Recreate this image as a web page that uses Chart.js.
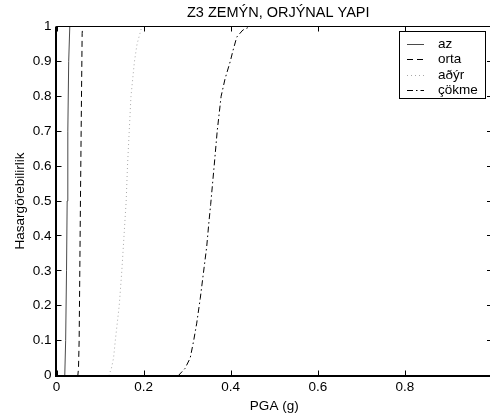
<!DOCTYPE html>
<html>
<head>
<meta charset="utf-8">
<script src="https://cdn.jsdelivr.net/npm/chart.js@4/dist/chart.umd.min.js"></script>
<style>
  html, body { margin: 0; padding: 0; background: #fff; overflow: hidden; }
  #wrap { width: 496px; height: 417px; }
</style>
</head>
<body>
<div id="wrap"><canvas id="c" width="496" height="417"></canvas></div>
<script>
// Fragility curves: probability of exceeding each damage state vs. PGA
const chartTitle = 'Z3 ZEMÝN, ORJÝNAL YAPI';
const xTitle = 'PGA (g)';
const yTitle = 'Hasargörebilirlik';

const seriesNames = ['az', 'orta', 'aðýr', 'çökme'];

const azPGA   = [0, 0.019, 0.021, 0.023, 0.0245, 0.026, 0.028, 0.0305, 1];
const azProb  = [0, 0,     0.1,   0.3,   0.5,    0.7,   0.9,   1,      1];

const ortaPGA  = [0, 0.049, 0.0505, 0.052, 0.0535, 0.055, 0.0566, 0.0578, 0.0589, 0.060, 1];
const ortaProb = [0, 0,     0.02,   0.1,   0.3,    0.5,   0.7,    0.85,   0.98,   1,     1];

const agirPGA  = [0, 0.120, 0.126, 0.131, 0.135, 0.144, 0.150, 0.155, 0.160, 0.163, 0.167, 0.171, 0.179, 0.185, 0.196, 1];
const agirProb = [0, 0,     0.02,  0.05,  0.1,   0.2,   0.3,   0.4,   0.5,   0.6,   0.7,   0.8,   0.9,   0.95,  1,     1];

const cokmePGA  = [0, 0.280, 0.295, 0.307, 0.315, 0.322, 0.330, 0.337, 0.345, 0.350, 0.354, 0.362, 0.369, 0.378, 0.387, 0.399, 0.405, 0.414, 0.428, 0.445, 1];
const cokmeProb = [0, 0,     0.02,  0.05,  0.1,   0.15,  0.22,  0.29,  0.37,  0.44,  0.49,  0.6,   0.7,   0.8,   0.85,  0.9,   0.93,  0.97,  0.99,  1,     1];

const xTicks = [0, 0.2, 0.4, 0.6, 0.8, 1];
const yTicks = [0, 0.1, 0.2, 0.3, 0.4, 0.5, 0.6, 0.7, 0.8, 0.9, 1];

const FONT = 'Liberation Sans, Arial, sans-serif';
const FS = 13.5;

function pts(xs, ys) { return xs.map((x, i) => ({ x: x, y: ys[i] })); }

const styles = [
  { color: '#4a4a4a', dash: [] },
  { color: '#000000', dash: [6, 4] },
  { color: '#a8a8a8', dash: [1, 3] },
  { color: '#000000', dash: [6, 3, 1.5, 3] }
];
const series = [[azPGA, azProb], [ortaPGA, ortaProb], [agirPGA, agirProb], [cokmePGA, cokmeProb]];

const datasets = series.map((s, i) => ({
  label: seriesNames[i],
  data: pts(s[0], s[1]),
  borderColor: styles[i].color,
  borderDash: styles[i].dash,
  borderWidth: 1,
  pointRadius: 0,
  fill: false,
  tension: 0
}));

// Frame with inward ticks on all four sides, drawn over the curves
const framePlugin = {
  id: 'frame',
  afterDatasetsDraw(chart) {
    const { ctx, chartArea: a, scales } = chart;
    ctx.save();
    ctx.strokeStyle = '#000';
    ctx.lineWidth = 1;
    ctx.setLineDash([]);
    ctx.beginPath();
    ctx.rect(a.left, a.top, a.right - a.left, a.bottom - a.top);
    ctx.stroke();
    ctx.lineWidth = 2;
    ctx.beginPath();
    ctx.moveTo(a.left - 0.5, a.top); ctx.lineTo(a.left - 0.5, a.bottom + 0.5); ctx.lineTo(a.right, a.bottom + 0.5);
    ctx.stroke();
    ctx.lineWidth = 1;
    const L = 5;
    ctx.beginPath();
    xTicks.forEach(v => {
      const x = Math.round(scales.x.getPixelForValue(v)) + 0.5;
      ctx.moveTo(x, a.bottom); ctx.lineTo(x, a.bottom - L);
      ctx.moveTo(x, a.top); ctx.lineTo(x, a.top + L);
    });
    yTicks.forEach(v => {
      const y = Math.round(scales.y.getPixelForValue(v) - 0.5) + 0.5;
      ctx.moveTo(a.left, y); ctx.lineTo(a.left + L, y);
      ctx.moveTo(a.right, y); ctx.lineTo(a.right - L, y);
    });
    ctx.stroke();
    // chart title centred over the axes
    ctx.fillStyle = '#000';
    ctx.font = '14.5px ' + FONT;
    ctx.textAlign = 'center';
    ctx.textBaseline = 'middle';
    ctx.fillText(chartTitle, (a.left + a.right) / 2 + 4, 13);
    ctx.restore();
  },
  afterDraw(chart) {
    // boxed legend in the upper right corner
    const { ctx } = chart;
    const bx = 399.5, by = 31.5, bw = 86, bh = 67;
    ctx.save();
    ctx.fillStyle = '#fff';
    ctx.fillRect(bx, by, bw, bh);
    ctx.strokeStyle = '#000';
    ctx.lineWidth = 1;
    ctx.setLineDash([]);
    ctx.strokeRect(bx, by, bw, bh);
    ctx.font = FS + 'px ' + FONT;
    ctx.textAlign = 'left';
    ctx.textBaseline = 'middle';
    chart.data.datasets.forEach((d, i) => {
      const y = by + 12.5 + i * 15.4;
      ctx.strokeStyle = d.borderColor;
      ctx.setLineDash(d.borderDash);
      ctx.beginPath();
      ctx.moveTo(407, Math.round(y) + 0.5);
      ctx.lineTo(424, Math.round(y) + 0.5);
      ctx.stroke();
      ctx.fillStyle = '#000';
      ctx.fillText(d.label, 438, y);
    });
    ctx.restore();
  }
};

new Chart(document.getElementById('c'), {
  type: 'line',
  data: { datasets: datasets },
  options: {
    responsive: false,
    animation: false,
    devicePixelRatio: 1,
    layout: { padding: { top: 26.5, left: 0, right: 3.5, bottom: 0 } },
    plugins: { legend: { display: false }, tooltip: { enabled: false }, title: { display: false } },
    scales: {
      x: {
        type: 'linear',
        min: 0, max: 1,
        afterBuildTicks: s => { s.ticks = xTicks.map(v => ({ value: v })); },
        afterFit: s => { s.height = 41.5; },
        grid: { display: false, drawTicks: false },
        border: { display: false },
        ticks: {
          color: '#000', padding: 4, maxRotation: 0,
          font: { family: FONT, size: FS },
          callback: v => (v >= 0.99 ? '' : String(Math.round(v * 10) / 10))
        },
        title: { display: true, text: xTitle, color: '#000', font: { family: FONT, size: FS }, padding: { top: 0, bottom: 3 } }
      },
      y: {
        type: 'linear',
        min: 0, max: 1,
        afterBuildTicks: s => { s.ticks = yTicks.map(v => ({ value: v })); },
        afterFit: s => { s.width = 56.5; },
        grid: { display: false, drawTicks: false },
        border: { display: false },
        ticks: {
          color: '#000', padding: 5,
          font: { family: FONT, size: FS },
          callback: v => String(Math.round(v * 10) / 10)
        },
        title: { display: true, text: yTitle, color: '#000', font: { family: FONT, size: FS }, padding: { top: 12, bottom: 0 } }
      }
    }
  },
  plugins: [framePlugin]
});
</script>
</body>
</html>
